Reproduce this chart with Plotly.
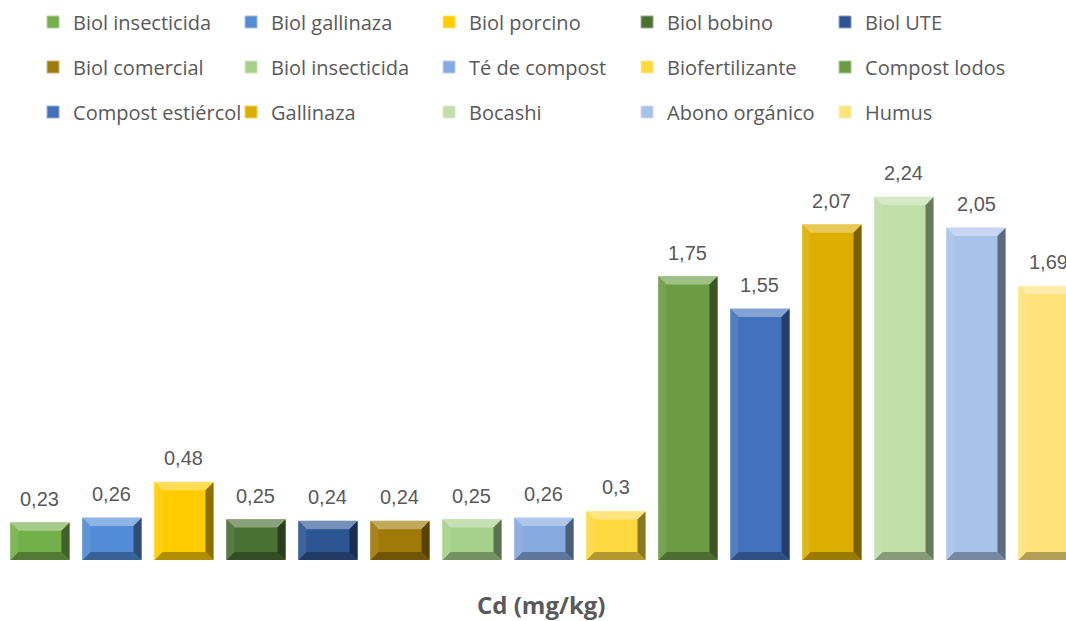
import plotly.graph_objects as go

# Cadmium content per fertiliser sample
categories = [
    "Biol insecticida", "Biol gallinaza", "Biol porcino", "Biol bobino", "Biol UTE",
    "Biol comercial", "Biol insecticida", "Té de compost", "Biofertilizante", "Compost lodos",
    "Compost estiércol", "Gallinaza", "Bocashi", "Abono orgánico", "Humus",
]
cd_values = [0.23, 0.26, 0.48, 0.25, 0.24, 0.24, 0.25, 0.26, 0.3,
             1.75, 1.55, 2.07, 2.24, 2.05, 1.69]
bar_colors = [
    "#74B04A", "#528BD6", "#FFCC00", "#4A7034", "#2D5592",
    "#A07A08", "#A6D18A", "#86A9DF", "#FFD940", "#6B9C44",
    "#4272BC", "#DDAE00", "#BFDEA8", "#A9C2EA", "#FFE27A",
]
value_labels = [str(v).replace(".", ",") for v in cd_values]
axis_title = "Cd (mg/kg)"

TEXT = "#595959"
BAR_W = 0.82
PX_X = 72.0      # pixels per category step
PX_Y = 161.6     # pixels per mg/kg
BEVEL = 8.0      # bevel depth in pixels


def mix(hex_color, target, t):
    h = hex_color.lstrip("#")
    r, g, b = (int(h[k:k + 2], 16) for k in (0, 2, 4))
    tr, tg, tb = target
    r = round(r + (tr - r) * t)
    g = round(g + (tg - g) * t)
    b = round(b + (tb - b) * t)
    return f"rgb({r},{g},{b})"


WHITE = (255, 255, 255)
BLACK = (0, 0, 0)

fig = go.Figure()
legend_ids = ["legend", "legend2", "legend3"]

for i, (name, val, col) in enumerate(zip(categories, cd_values, bar_colors)):
    fig.add_trace(go.Bar(
        x=[i], y=[val], name=name, width=BAR_W,
        marker=dict(color=col, line=dict(width=1, color=mix(col, WHITE, 0.45))),
        legend=legend_ids[i // 5],
        hovertemplate=f"{name}: %{{y}}<extra></extra>",
    ))

# bevel facets drawn over each bar
shapes = []
bx = BEVEL / PX_X
by = BEVEL / PX_Y
for i, (val, col) in enumerate(zip(cd_values, bar_colors)):
    x0, x1 = i - BAR_W / 2, i + BAR_W / 2
    facets = [
        ([(x0, val), (x1, val), (x1 - bx, val - by), (x0 + bx, val - by)], mix(col, WHITE, 0.35)),
        ([(x0, 0), (x1, 0), (x1 - bx, by), (x0 + bx, by)], mix(col, BLACK, 0.3)),
        ([(x0, 0), (x0, val), (x0 + bx, val - by), (x0 + bx, by)], mix(col, WHITE, 0.08)),
        ([(x1, 0), (x1, val), (x1 - bx, val - by), (x1 - bx, by)], mix(col, BLACK, 0.45)),
    ]
    for pts, fc in facets:
        path = "M " + " L ".join(f"{px},{py}" for px, py in pts) + " Z"
        shapes.append(dict(type="path", path=path, xref="x", yref="y",
                           fillcolor=fc, line=dict(width=0), layer="above"))

annotations = []
for i, (val, lab) in enumerate(zip(cd_values, value_labels)):
    annotations.append(dict(
        x=i, y=val, xref="x", yref="y", text=lab, showarrow=False,
        yanchor="bottom", yshift=11,
        font=dict(family="Liberation Sans, Arial", size=20, color=TEXT),
    ))

# axis caption below the bars
annotations.append(dict(
    x=0.5075, y=-0.111, xref="paper", yref="paper", text=f"<b>{axis_title}</b>",
    showarrow=False, xanchor="center", yanchor="middle",
    font=dict(family="Open Sans", size=24, color=TEXT),
))

legend_font = dict(family="Open Sans", size=20, color=TEXT)
legend_common = dict(
    orientation="h", x=0.031, xanchor="left", yanchor="middle",
    entrywidth=153, entrywidthmode="pixels", font=legend_font,
    bgcolor="rgba(0,0,0,0)", traceorder="normal",
)

fig.update_layout(
    width=1066, height=621,
    margin=dict(l=0, r=0, t=155, b=61),
    paper_bgcolor="white", plot_bgcolor="white",
    barmode="overlay",
    legend=dict(y=1.3284, **legend_common),
    legend2=dict(y=1.2173, **legend_common),
    legend3=dict(y=1.1062, **legend_common),
    xaxis=dict(range=[-0.555, 14.25], showticklabels=False, showgrid=False,
               zeroline=False, showline=False, ticks=""),
    yaxis=dict(range=[0, 2.5], visible=False),
    shapes=shapes,
    annotations=annotations,
    showlegend=True,
)

fig.write_html("out.html")
